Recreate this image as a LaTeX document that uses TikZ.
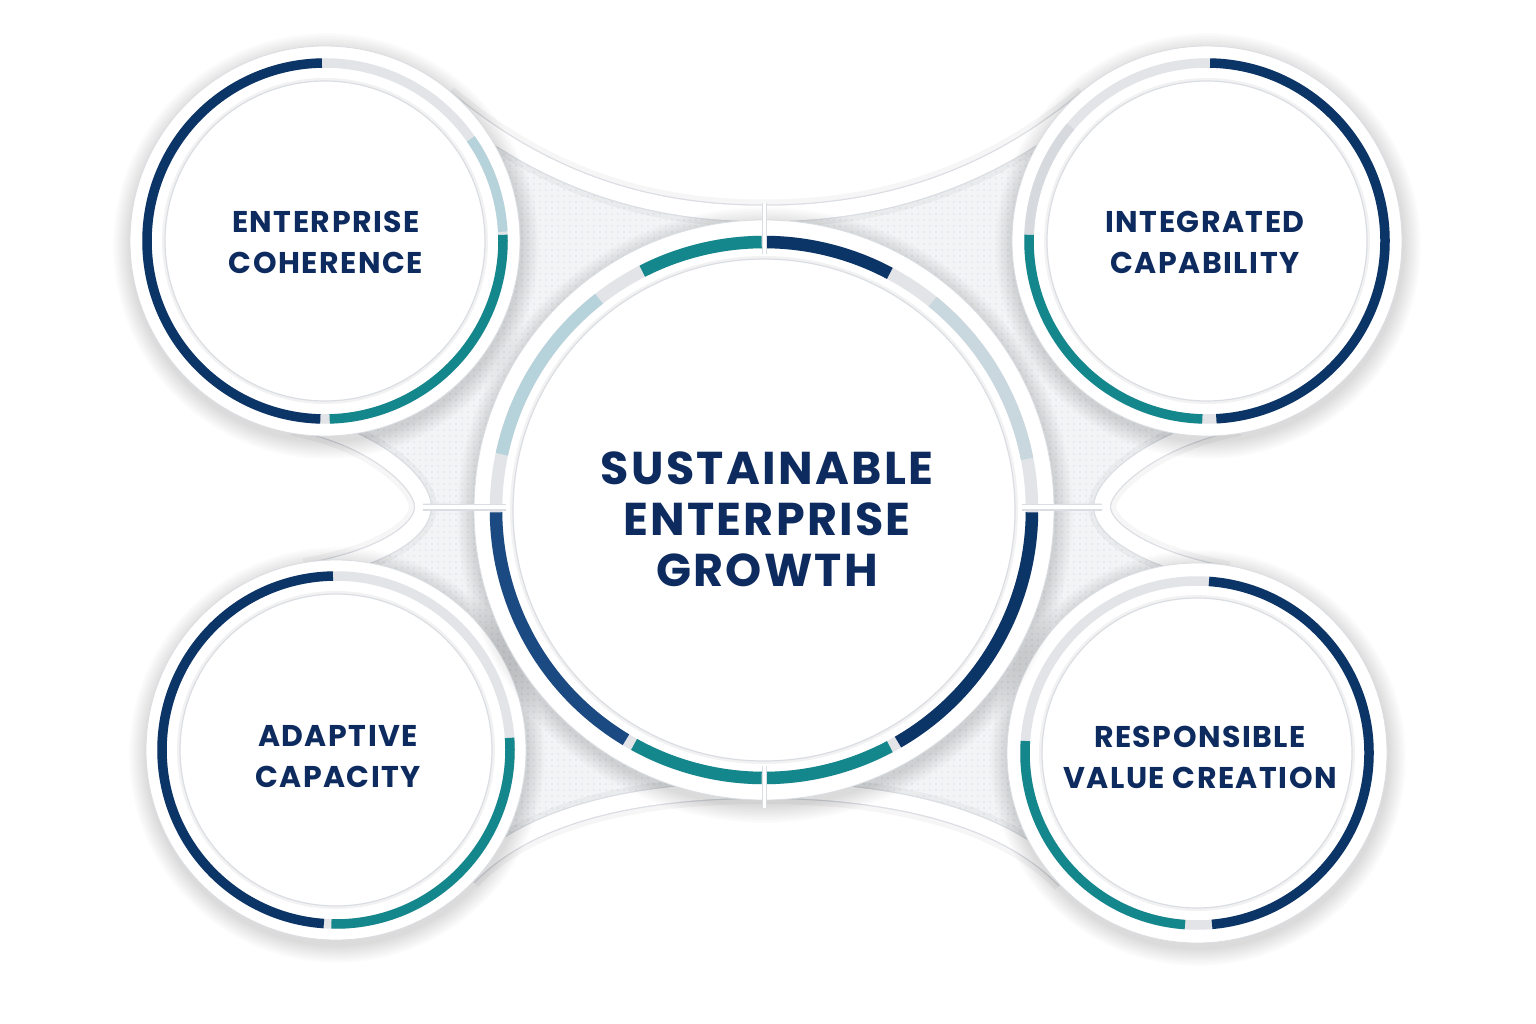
\documentclass[tikz,border=0pt]{standalone}
\usepackage{fontspec}
\setmainfont{Poppins}[LetterSpace=5]
\usetikzlibrary{patterns.meta}
\definecolor{navytext}{HTML}{0E2B5F}
\definecolor{navy}{HTML}{0B3467}
\definecolor{navytwo}{HTML}{1B4A82}
\definecolor{teal}{HTML}{14878D}
\definecolor{lightblue}{HTML}{B6D2DA}
\definecolor{lightbluetwo}{HTML}{C9D7DE}
\definecolor{track}{HTML}{E2E4E8}
\definecolor{trackdark}{HTML}{D6D9DE}
\definecolor{plate}{HTML}{F3F4F6}
\definecolor{dotc}{HTML}{DFE1E5}
\definecolor{edgec}{HTML}{DADDE2}
\newcommand\seg[6]{\draw[#1, line width=#6] (#2) ++(#3:#5) arc[start angle=#3, end angle=#4, radius=#5];}
\newcommand\outerdisc[4]{%
  \foreach \k in {1,...,12} {\fill[black,opacity=0.01] ([xshift=1pt,yshift=-5pt]#1) circle ({#2+1.5*\k});}
  \fill[white] (#1) circle (#2);
  \draw[discedge] (#1) circle (#2);
  \draw[track, line width=#4] (#1) circle (#3);}
\newcommand\innerdisc[2]{%
  \draw[black, opacity=0.05, line width=3] (#1) circle ({#2+1.5});
  \fill[white] (#1) circle (#2);
  \draw[edgec, line width=1.2] (#1) circle (#2);}
\tikzset{
  discedge/.style={draw=edgec, line width=0.8},
  bandshadow/.style={draw=black, opacity=0.035, line width=28},
  bandedge/.style={draw=edgec, line width=18},
  bandfill/.style={draw=white, line width=15.5},
  seamedge/.style={draw=edgec, line width=7},
  seamfill/.style={draw=white, line width=4.5},
  lbl/.style={text=navytext, align=center, font=\bfseries\fontsize{30}{41}\selectfont, inner sep=0pt},
  bigl/.style={text=navytext, align=center, font=\bfseries\fontsize{46}{51}\selectfont, inner sep=0pt}
}
\begin{document}
\begin{tikzpicture}[x=1pt,y=1pt]
\useasboundingbox (0,0) rectangle (1536,-1024);
\fill[white] (0,0) rectangle (1536,-1024);
% centres
\coordinate (tl) at (325,-241);
\coordinate (tr) at (1207,-241);
\coordinate (bl) at (336,-750);
\coordinate (br) at (1197,-753);
\coordinate (c) at (764,-510);
% band end points
\coordinate (ta) at (445,-98);
\coordinate (tm) at (764,-213.5);
\coordinate (tb) at (1087,-98);
\coordinate (ra) at (1239,-422);
\coordinate (rm) at (1102,-507);
\coordinate (rb) at (1228,-575);
\coordinate (ba) at (468,-877);
\coordinate (bm) at (764,-790);
\coordinate (bb) at (1065,-880);
\coordinate (la) at (293,-422);
\coordinate (lm) at (423,-507);
\coordinate (lb) at (305,-572);
% plate
\path[fill=plate] (tl) -- (ta) .. controls (552,-188) and (660,-213.5) .. (tm) .. controls (868,-213.5) and (980,-188) .. (tb) -- (tr) -- (ra) .. controls (1160,-436) and (1102,-482) .. (rm) .. controls (1102,-530) and (1149,-561) .. (rb) -- (br) -- (bb) .. controls (996,-808) and (866,-790) .. (bm) .. controls (662,-790) and (537.5,-805) .. (ba) -- (bl) -- (lb) .. controls (384,-558) and (423,-530) .. (lm) .. controls (423,-482) and (372,-436) .. (la) -- cycle;
\path[pattern={Dots[distance=6pt,radius=0.8pt]}, pattern color=dotc] (tl) -- (ta) .. controls (552,-188) and (660,-213.5) .. (tm) .. controls (868,-213.5) and (980,-188) .. (tb) -- (tr) -- (ra) .. controls (1160,-436) and (1102,-482) .. (rm) .. controls (1102,-530) and (1149,-561) .. (rb) -- (br) -- (bb) .. controls (996,-808) and (866,-790) .. (bm) .. controls (662,-790) and (537.5,-805) .. (ba) -- (bl) -- (lb) .. controls (384,-558) and (423,-530) .. (lm) .. controls (423,-482) and (372,-436) .. (la) -- cycle;
% bands
\foreach \st in {bandshadow,bandedge,bandfill} {
  \draw[\st] (ta) .. controls (552,-188) and (660,-213.5) .. (tm) .. controls (868,-213.5) and (980,-188) .. (tb);
  \draw[\st] (ra) .. controls (1160,-436) and (1102,-482) .. (rm) .. controls (1102,-530) and (1149,-561) .. (rb);
  \draw[\st] (ba) .. controls (537.5,-805) and (662,-790) .. (bm) .. controls (866,-790) and (996,-808) .. (bb);
  \draw[\st] (la) .. controls (372,-436) and (423,-482) .. (lm) .. controls (423,-530) and (384,-558) .. (lb);
}
% side seams
\draw[seamedge] (lm) -- (c);
\draw[seamfill] (lm) -- (c);
\draw[seamedge] (rm) -- (c);
\draw[seamfill] (rm) -- (c);
% outer circles
\outerdisc{tl}{195}{178}{9.5}
\seg{navy}{tl}{91}{268.5}{178}{9.5}
\seg{lightblue}{tl}{35}{3}{178}{9.5}
\seg{teal}{tl}{2}{-88.5}{178}{9.5}
\innerdisc{tl}{160}

\outerdisc{tr}{195}{178}{9.5}
\seg{navy}{tr}{89}{-87}{178}{9.5}
\seg{trackdark}{tr}{140}{178}{178}{9.5}
\seg{teal}{tr}{178}{268.5}{178}{9.5}
\innerdisc{tr}{160}

\outerdisc{bl}{190}{174}{9.5}
\seg{navy}{bl}{91}{266}{174}{9.5}
\seg{teal}{bl}{4}{-91.5}{174}{9.5}
\innerdisc{bl}{156}

\outerdisc{br}{190}{172}{9.5}
\seg{navy}{br}{86}{-85}{172}{9.5}
\seg{teal}{br}{176}{266}{172}{9.5}
\innerdisc{br}{155}

% centre circle
\outerdisc{c}{290}{268}{12.5}
\seg{teal}{c}{90.5}{117}{268}{12.5}
\seg{lightblue}{c}{128}{168}{268}{12.5}
\seg{navytwo}{c}{180.5}{239}{268}{12.5}
\seg{teal}{c}{241}{269.5}{268}{12.5}
\seg{teal}{c}{270.5}{298}{268}{12.5}
\seg{navy}{c}{300}{359.5}{268}{12.5}
\seg{lightbluetwo}{c}{11}{51}{268}{12.5}
\seg{navy}{c}{62}{89.5}{268}{12.5}
% vertical seams
\coordinate (st1) at (764,-203);
\coordinate (st2) at (764,-254);
\coordinate (sb1) at (764,-766);
\coordinate (sb2) at (764,-808);
\coordinate (sl) at (506,-507);
\coordinate (sr) at (1022,-507);
\draw[seamedge, line width=5] (st1) -- (st2);
\draw[seamfill, line width=3] (st1) -- (st2);
\draw[seamedge, line width=5] (sb1) -- (sb2);
\draw[seamfill, line width=3] (sb1) -- (sb2);
\draw[seamedge] (lm) -- (sl);
\draw[seamfill] (lm) -- (sl);
\draw[seamedge] (rm) -- (sr);
\draw[seamfill] (rm) -- (sr);
\innerdisc{c}{251}
% labels
\node[lbl] (t1) at (326,-242) {ENTERPRISE\\COHERENCE};
\node[lbl] (t2) at (1205,-242) {INTEGRATED\\CAPABILITY};
\node[lbl] (t3) at (338,-757) {ADAPTIVE\\CAPACITY};
\node[lbl] (t4) at (1200,-757) {RESPONSIBLE\\VALUE CREATION};
\node[bigl] (t0) at (767,-519) {SUSTAINABLE\\ENTERPRISE\\GROWTH};
\end{tikzpicture}
\end{document}
